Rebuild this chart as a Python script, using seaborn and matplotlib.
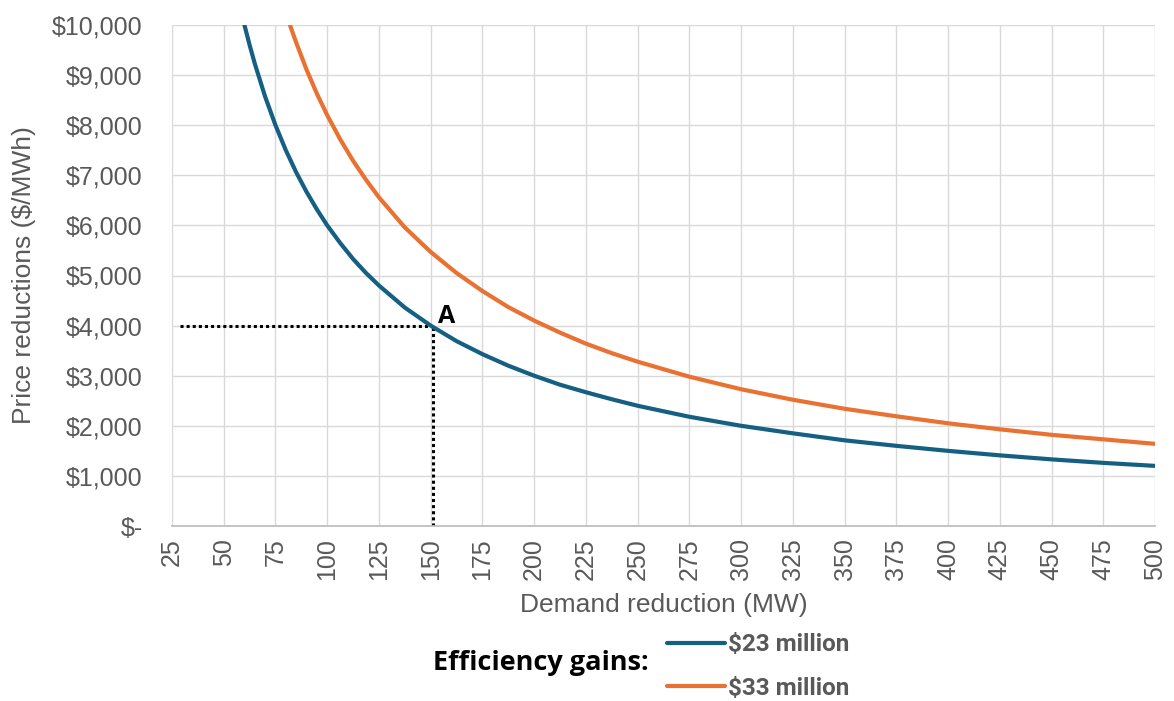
import matplotlib
matplotlib.use("Agg")
import matplotlib.pyplot as plt
import pandas as pd
import seaborn as sns

# Demand reduction (MW) vs. price reduction ($/MWh) for each efficiency-gain level
demand_23 = [60, 62.5, 65, 70, 75, 80, 85, 90, 95, 100, 106.25, 112.5, 118.75, 125,
             137.5, 150, 162.5, 175, 187.5, 200, 212.5, 225, 237.5, 250,
             275, 300, 325, 350, 375, 400, 425, 450, 475, 500]
price_23 = [10000, 9600, 9230, 8570, 8000, 7500, 7060, 6670, 6320, 6000, 5650, 5330, 5050, 4800,
            4360, 4000, 3690, 3430, 3200, 3000, 2820, 2670, 2530, 2400,
            2180, 2000, 1850, 1710, 1600, 1500, 1410, 1330, 1260, 1200]

demand_33 = [82, 85, 90, 95, 100, 106.25, 112.5, 118.75, 125, 137.5, 150, 162.5, 175, 187.5,
             200, 212.5, 225, 237.5, 250, 275, 300, 325, 350, 375, 400, 425, 450, 475, 500]
price_33 = [10000, 9650, 9110, 8630, 8200, 7720, 7290, 6910, 6560, 5960, 5470, 5050, 4690, 4370,
            4100, 3860, 3640, 3450, 3280, 2980, 2730, 2520, 2340, 2190, 2050, 1930, 1820, 1730, 1640]

series_names = ["\\$23 million", "\\$33 million"]
series_colors = ["#156082", "#E97132"]

x_ticks = list(range(25, 501, 25))
y_ticks = list(range(0, 10001, 1000))
y_tick_labels = ["\\$-", "\\$1,000", "\\$2,000", "\\$3,000", "\\$4,000", "\\$5,000",
                 "\\$6,000", "\\$7,000", "\\$8,000", "\\$9,000", "\\$10,000"]

point_a = (151, 4000)
point_a_label = "A"

sns.set_theme(style="white")
plt.rcParams["font.family"] = ["Liberation Sans", "DejaVu Sans"]

df = pd.concat([
    pd.DataFrame({"MW": demand_23, "price": price_23, "series": series_names[0]}),
    pd.DataFrame({"MW": demand_33, "price": price_33, "series": series_names[1]}),
], ignore_index=True)

fig = plt.figure(figsize=(11.74, 7.01), dpi=100)
ax = fig.add_axes([172 / 1174, 1 - 526 / 701, 983 / 1174, 501 / 701])

sns.lineplot(data=df, x="MW", y="price", hue="series",
             palette=dict(zip(series_names, series_colors)),
             linewidth=3, estimator=None, sort=False, legend=False, ax=ax, zorder=3)

# Reference lines to point A
dot_style = dict(color="black", linewidth=2.2, linestyle=(0, (1, 1)),
                 dash_capstyle="butt", zorder=2)
ax.plot([x_ticks[0] + 4, point_a[0]], [point_a[1], point_a[1]], **dot_style)
ax.plot([point_a[0], point_a[0]], [0, point_a[1]], **dot_style)
ax.annotate(point_a_label, xy=point_a, xytext=(4, 2), textcoords="offset points",
            ha="left", va="baseline", fontsize=18, fontweight="bold",
            color="black", family=["Open Sans", "DejaVu Sans"])

ax.set_xlim(x_ticks[0], x_ticks[-1])
ax.set_ylim(y_ticks[0], y_ticks[-1])
ax.set_xticks(x_ticks)
ax.set_xticklabels([str(v) for v in x_ticks], rotation=90)
ax.set_yticks(y_ticks)
ax.set_yticklabels(y_tick_labels)
ax.tick_params(axis="both", length=0, labelsize=18, labelcolor="#595959")
ax.tick_params(axis="x", pad=9)
ax.tick_params(axis="y", pad=21)

ax.grid(True, color="#D9D9D9", linewidth=1)
for side in ("top", "right", "left"):
    ax.spines[side].set_visible(False)
ax.spines["bottom"].set_color("#BFBFBF")
ax.spines["bottom"].set_linewidth(1.3)

ax.set_xlabel("Demand reduction (MW)", fontsize=19, color="#595959")
ax.set_ylabel("Price reductions (\\$/MWh)", fontsize=19, color="#595959")
ax.xaxis.set_label_coords(0.5, -(593 - 526) / 501)
ax.yaxis.set_label_coords(-(172 - 36) / 983, 0.5)

# Legend below the plot
handles = ax.lines[:2]
fig.legend(handles, series_names, loc="center left",
           bbox_to_anchor=(667 / 1174, 1 - 666.5 / 701),
           frameon=False, borderpad=0, borderaxespad=0,
           handlelength=2.4, handletextpad=0.12, labelspacing=0.85,
           prop={"family": ["Roboto", "DejaVu Sans"], "weight": "bold", "size": 17.5},
           labelcolor="#595959")
fig.text(433 / 1174, 1 - 663 / 701, "Efficiency gains:", ha="left", va="center",
         fontsize=19.5, fontweight="bold", color="black", family=["Open Sans", "DejaVu Sans"])

fig.savefig("out.png", dpi=100, facecolor="white")
